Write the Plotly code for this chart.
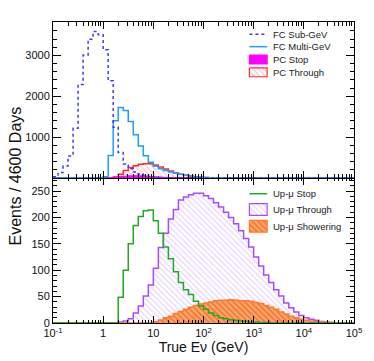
import numpy as np
import plotly.graph_objects as go

# ---- data (10 log bins per decade from 0.1 GeV to 1e5 GeV) ----
LOG_MIN, LOG_MAX, BINS_PER_DEC = -1.0, 5.0, 10
edges = 10 ** np.linspace(LOG_MIN, LOG_MAX, int((LOG_MAX - LOG_MIN) * BINS_PER_DEC) + 1)
n_bins = len(edges) - 1

fc_subgev_start = 0
fc_subgev = [30, 130, 290, 540, 1215, 2290, 3010, 3400, 3590, 3510, 3140, 2380, 1240,
             620, 343, 224, 144, 96, 60, 35, 20, 10, 5, 2]
fc_multigev_start = 10
fc_multigev = [30, 550, 1400, 1727, 1650, 1385, 1060, 780, 545, 384, 288, 224, 184, 144,
               120, 88, 64, 48, 30, 20, 12, 7, 4, 2]
pc_stop_start = 11
pc_stop = [8, 20, 35, 45, 52, 55, 52, 45, 36, 28, 20, 14, 9, 6, 3, 2]
pc_through_start = 12
pc_through = [20, 90, 185, 255, 300, 335, 350, 345, 315, 270, 220, 170, 128, 92, 66, 46,
              30, 19, 11, 6, 3]

upmu_stop_start = 13
upmu_stop = [49, 100, 150, 185, 202, 213, 214, 194, 170, 144, 122, 97, 77, 63, 54, 41, 32,
             26, 19, 14, 10, 8, 6, 5, 4, 3, 2, 2, 1, 1]
upmu_through_start = 13
upmu_through = [2, 4, 8, 19, 32, 51, 72, 104, 143, 170, 197, 215, 233, 239, 243, 246, 246,
                241, 236, 228, 220, 210, 200, 188, 175, 160, 144, 125, 108, 91, 77, 63, 51,
                38, 29, 21, 14, 10, 7, 5, 3, 2, 1]
upmu_shower_start = 20
upmu_shower = [2.5, 5.6, 10, 13, 18, 22, 26, 30, 33, 36, 38, 40, 42, 43, 43, 44, 43, 42, 42,
               41, 39, 37, 33, 30, 26, 21, 17, 13, 10, 7, 5, 4, 2.5, 2, 1, 1]

x_tickvals = [0.1, 1, 10, 100, 1000, 10000, 100000]
x_ticktext = ["10<sup>-1</sup>", "1", "10", "10<sup>2</sup>", "10<sup>3</sup>",
              "10<sup>4</sup>", "10<sup>5</sup>"]
top_tickvals = [1000, 2000, 3000]
bot_tickvals = [0, 50, 100, 150, 200, 250]


def hist(vals, start):
    full = np.zeros(n_bins)
    full[start:start + len(vals)] = vals
    return edges, np.append(full, 0.0)


FONT = "Liberation Sans"
C_SUB = "#3c3cf5"
C_MULTI = "#1ea0f5"
C_PCSTOP = "#ff00ff"
C_PCTHR = "#ff2a2a"
C_USTOP = "#22a822"
C_UTHR = "#a64dff"
C_USHW = "#ff7a2a"
CLEAR = "rgba(0,0,0,0)"

PAT_PCTHR = dict(shape="\\", fgcolor="#ff8a8a", bgcolor=CLEAR, size=4, solidity=0.3)
PAT_UTHR = dict(shape="\\", fgcolor="#cda8ff", bgcolor=CLEAR, size=4, solidity=0.3)
PAT_USHW = dict(shape="\\", fgcolor="#ec6c22", bgcolor="#ffa468", size=4, solidity=0.3,
                fillmode="replace")

fig = go.Figure()

# ---- top panel ----
x, y = hist(pc_through, pc_through_start)
fig.add_trace(go.Scatter(x=x, y=y, xaxis="x2", yaxis="y2", mode="lines",
                         line=dict(color=C_PCTHR, width=1.5, shape="hv"),
                         fill="tozeroy", fillcolor=CLEAR, fillpattern=PAT_PCTHR))
x, y = hist(pc_stop, pc_stop_start)
fig.add_trace(go.Scatter(x=x, y=y, xaxis="x2", yaxis="y2", mode="lines",
                         line=dict(color=C_PCSTOP, width=1, shape="hv"),
                         fill="tozeroy", fillcolor=C_PCSTOP))
x, y = hist(fc_multigev, fc_multigev_start)
fig.add_trace(go.Scatter(x=x, y=y, xaxis="x2", yaxis="y2", mode="lines",
                         line=dict(color=C_MULTI, width=1.5, shape="hv")))
x, y = hist(fc_subgev, fc_subgev_start)
fig.add_trace(go.Scatter(x=x, y=y, xaxis="x2", yaxis="y2", mode="lines",
                         line=dict(color=C_SUB, width=1.5, shape="hv", dash="dot")))

# ---- bottom panel ----
x, y = hist(upmu_through, upmu_through_start)
fig.add_trace(go.Scatter(x=x, y=y, xaxis="x", yaxis="y", mode="lines",
                         line=dict(color=C_UTHR, width=1.5, shape="hv"),
                         fill="tozeroy", fillcolor=CLEAR, fillpattern=PAT_UTHR))
x, y = hist(upmu_shower, upmu_shower_start)
fig.add_trace(go.Scatter(x=x, y=y, xaxis="x", yaxis="y", mode="lines",
                         line=dict(color=C_USHW, width=1.5, shape="hv"),
                         fill="tozeroy", fillcolor="#ffa468", fillpattern=PAT_USHW))
x, y = hist(upmu_stop, upmu_stop_start)
fig.add_trace(go.Scatter(x=x, y=y, xaxis="x", yaxis="y", mode="lines",
                         line=dict(color=C_USTOP, width=1.5, shape="hv")))


# ---- legend swatches (overlay pixel-space axes) ----
def seg(y0, color, dash="solid"):
    fig.add_trace(go.Scatter(x=[252, 270], y=[y0, y0], xaxis="x3", yaxis="y3", mode="lines",
                             line=dict(color=color, width=1.5, dash=dash), hoverinfo="skip"))


def box(y0, y1, line, fill, pattern=None):
    kw = dict(fillpattern=pattern) if pattern else {}
    fig.add_trace(go.Scatter(x=[252, 270, 270, 252, 252], y=[y0, y0, y1, y1, y0],
                             xaxis="x3", yaxis="y3", mode="lines", fill="toself",
                             fillcolor=fill, line=dict(color=line, width=1.2),
                             hoverinfo="skip", **kw))


seg(34.5, C_SUB, "dot")
seg(47, C_MULTI)
box(55.5, 64.5, C_PCSTOP, C_PCSTOP)
box(68.5, 77.5, C_PCTHR, CLEAR, PAT_PCTHR)
seg(196, C_USTOP)
box(206, 218, C_UTHR, CLEAR, PAT_UTHR)
box(223, 235, C_USHW, "#ffa468", PAT_USHW)

legend_labels = [("FC Sub-GeV", 34.5), ("FC Multi-GeV", 47), ("PC Stop", 60),
                 ("PC Through", 73), ("Up-μ Stop", 196), ("Up-μ Through", 212),
                 ("Up-μ Showering", 229)]
annotations = [dict(text=t, x=274, y=yy, xref="x3", yref="y3", xanchor="left",
                    yanchor="middle", showarrow=False,
                    font=dict(family=FONT, size=9.5, color="#222"))
               for t, yy in legend_labels]

L, R, T, B, W, H = 53, 16, 22, 34, 374, 361
PW, PH = W - L - R, H - T - B
annotations.append(dict(text="Events / 4600 Days", x=(15 - L) / PW, y=(H - B - 178) / PH,
                        xref="paper", yref="paper",
                        textangle=-90, showarrow=False, xanchor="center", yanchor="middle",
                        font=dict(family=FONT, size=16, color="#111")))

axis_common = dict(showline=True, linecolor="black", linewidth=1, mirror="allticks",
                   ticks="inside", tickcolor="black", showgrid=False, zeroline=False)
xcommon = dict(axis_common, type="log", range=[LOG_MIN, LOG_MAX], tickmode="array",
               tickvals=x_tickvals, ticktext=x_ticktext, ticklen=7,
               minor=dict(ticks="inside", ticklen=3.5, tickcolor="black", dtick="D1",
                          showgrid=False))

SPLIT = 147 / PH
fig.update_layout(
    width=W, height=H,
    margin=dict(l=L, r=R, t=T, b=B),
    paper_bgcolor="white", plot_bgcolor=CLEAR,
    font=dict(family=FONT, size=11, color="#111"),
    xaxis=dict(xcommon, domain=[0, 1], anchor="y",
               tickfont=dict(size=11),
               title=dict(text="True Eν (GeV)", font=dict(size=14), standoff=0)),
    yaxis=dict(axis_common, domain=[0, SPLIT], anchor="x", range=[0, 275],
               tickmode="array", tickvals=bot_tickvals, ticklen=8,
               minor=dict(ticks="inside", ticklen=4, tickcolor="black", dtick=10)),
    xaxis2=dict(xcommon, domain=[0, 1], anchor="y2", matches="x", showticklabels=False),
    yaxis2=dict(axis_common, domain=[SPLIT, 1], anchor="x2", range=[0, 3820],
                tickmode="array", tickvals=top_tickvals, ticklen=8,
                minor=dict(ticks="inside", ticklen=4, tickcolor="black", dtick=200)),
    xaxis3=dict(domain=[0, 1], anchor="y3", range=[L, W - R], visible=False, fixedrange=True),
    yaxis3=dict(domain=[0, 1], anchor="x3", range=[H - B, T], visible=False, fixedrange=True),
    annotations=annotations,
    showlegend=False,
    hovermode=False,
)

fig.write_html("out.html", config={"displayModeBar": False, "staticPlot": True},
               post_script="document.body.style.margin='0';document.body.style.padding='0';")
